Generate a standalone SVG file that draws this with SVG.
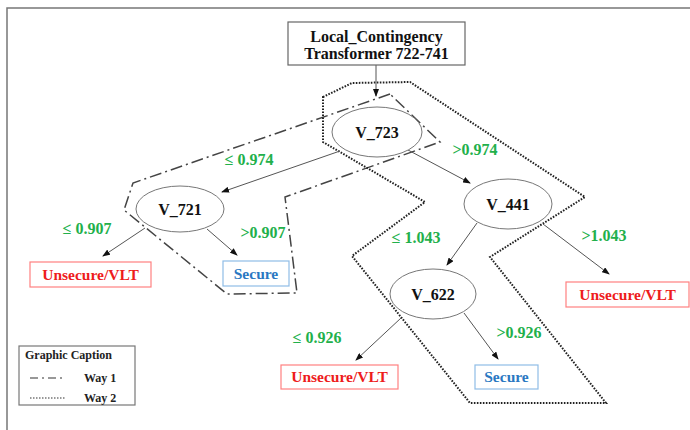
<svg xmlns="http://www.w3.org/2000/svg" width="690" height="430" viewBox="0 0 690 430">
<defs>
<marker id="ah" markerWidth="8" markerHeight="6" refX="7" refY="3" orient="auto" markerUnits="userSpaceOnUse">
<path d="M0,0 L8,3 L0,6 Z" fill="#111"/>
</marker>
<style>
text{font-family:'Liberation Serif','DejaVu Serif',serif;font-weight:bold;text-anchor:middle}
.node ellipse{fill:#fff;stroke:#777;stroke-width:1}
.node text{font-size:16px;fill:#111}
.edge{stroke:#555;stroke-width:1;fill:none;marker-end:url(#ah)}
.lbl{font-size:16px;fill:#22b04b}
.bad rect{fill:#fff;stroke:#ff8080;stroke-width:1.2}
.bad text{font-size:15.5px;fill:#ee1c1c}
.ok rect{fill:#fff;stroke:#8fbde6;stroke-width:1.2}
.ok text{font-size:15.5px;fill:#2a78c2}
.way1{fill:none;stroke:#444;stroke-width:1.5;stroke-dasharray:12 4 2 4}
.way2{fill:none;stroke:#222;stroke-width:2;stroke-dasharray:1.6 1.4}
</style>
</defs>
<rect width="690" height="430" fill="#fff"/>
<path d="M7,430 V8 H690" fill="none" stroke="#777" stroke-width="1.5"/>

<g id="regions">
<polygon class="way1" points="390,94 133,183 124,210 227,294 297,293 285,197 440,142"/>
<polygon class="way2" points="323,97 352,83 410,82 585,197 490,257 606,403 470,403 352,256 425,202 323,142"/>
</g>

<g id="connectors">
<line class="edge" x1="376" y1="65" x2="376" y2="96"/>
<line class="edge" x1="340" y1="151" x2="222" y2="192"/>
<line class="edge" x1="408" y1="150" x2="470" y2="183"/>
<line class="edge" x1="145" y1="228" x2="103" y2="256"/>
<line class="edge" x1="207" y1="229" x2="237" y2="255"/>
<line class="edge" x1="477" y1="223" x2="447" y2="265"/>
<line class="edge" x1="543" y1="224" x2="609" y2="274"/>
<line class="edge" x1="401" y1="318" x2="356" y2="360"/>
<line class="edge" x1="464" y1="313" x2="498" y2="359"/>
<text class="lbl" x="249" y="165">≤ 0.974</text>
<text class="lbl" x="475" y="155">&gt;0.974</text>
<text class="lbl" x="87" y="234">≤ 0.907</text>
<text class="lbl" x="263" y="238">&gt;0.907</text>
<text class="lbl" x="416" y="243">≤ 1.043</text>
<text class="lbl" x="604" y="241">&gt;1.043</text>
<text class="lbl" x="317" y="343">≤ 0.926</text>
<text class="lbl" x="519" y="338">&gt;0.926</text>
</g>

<g id="root">
<rect x="288" y="22" width="177" height="43" fill="#fff" stroke="#666" stroke-width="1.2"/>
<text x="376.5" y="42" font-size="16" fill="#111">Local_Contingency</text>
<text x="376.5" y="59" font-size="16" fill="#111">Transformer 722-741</text>
</g>

<g id="V_723" class="node"><ellipse cx="377" cy="132" rx="45" ry="25"/><text x="377" y="138">V_723</text></g>
<g id="V_721" class="node"><ellipse cx="180" cy="209" rx="44" ry="23"/><text x="180" y="215">V_721</text></g>
<g id="V_441" class="node"><ellipse cx="508" cy="204" rx="44" ry="25"/><text x="508" y="210">V_441</text></g>
<g id="V_622" class="node"><ellipse cx="433" cy="294" rx="43" ry="25"/><text x="433" y="300">V_622</text></g>

<g id="leaf1" class="bad"><rect x="30" y="262" width="121" height="25"/><text x="90.5" y="280">Unsecure/VLT</text></g>
<g id="leaf2" class="ok"><rect x="223" y="261" width="66" height="25"/><text x="256" y="279">Secure</text></g>
<g id="leaf3" class="bad"><rect x="566" y="282" width="123" height="25"/><text x="627.5" y="300">Unsecure/VLT</text></g>
<g id="leaf4" class="bad"><rect x="281" y="365" width="117" height="24"/><text x="339.5" y="382">Unsecure/VLT</text></g>
<g id="leaf5" class="ok"><rect x="475" y="365" width="63" height="24"/><text x="506.5" y="382">Secure</text></g>

<g id="legend">
<rect x="19" y="346" width="116" height="59" fill="#fff" stroke="#777" stroke-width="1.2"/>
<text x="25" y="359" font-size="12" fill="#222" style="text-anchor:start">Graphic Caption</text>
<line x1="30" y1="378" x2="66" y2="378" stroke="#333" stroke-width="1.2" stroke-dasharray="8 4 2 4"/>
<text x="84" y="382" font-size="12" fill="#222" style="text-anchor:start">Way 1</text>
<line x1="30" y1="398" x2="66" y2="398" stroke="#333" stroke-width="1.2" stroke-dasharray="1.5 1.5"/>
<text x="84" y="402" font-size="12" fill="#222" style="text-anchor:start">Way 2</text>
</g>
</svg>
